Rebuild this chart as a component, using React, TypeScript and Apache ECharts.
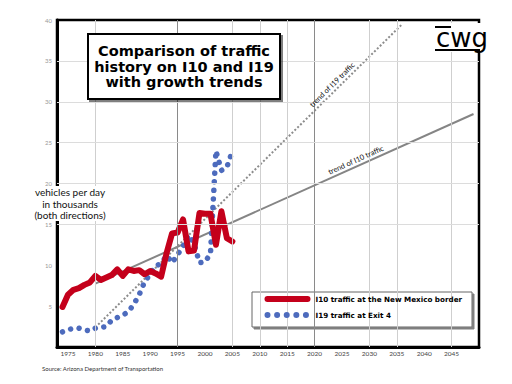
import React, { useEffect, useRef } from "react";
import * as echarts from "echarts";

// ---------- data ----------
const years = [
  1974, 1975, 1976, 1977, 1978, 1979, 1980, 1981, 1982, 1983, 1984, 1985, 1986, 1987, 1988, 1989,
  1990, 1991, 1992, 1993, 1994, 1995, 1996, 1997, 1998, 1999, 2000, 2001, 2002, 2003, 2004, 2005,
];
const i10Traffic = [
  4.9, 6.4, 7.0, 7.2, 7.6, 7.9, 8.7, 8.2, 8.5, 8.8, 9.5, 8.7, 9.5, 9.3, 9.4, 8.9,
  9.3, 9.0, 8.6, 11.5, 13.9, 14.0, 15.6, 11.7, 11.8, 16.4, 16.3, 16.3, 12.5, 16.6, 13.3, 12.9,
];
const i19Traffic = [
  1.85, 2.1, 2.3, 2.3, 2.1, 1.95, 2.3, 2.4, 2.5, 3.3, 3.6, 3.9, 4.3, 5.2, 6.4, 8.0,
  8.9, 9.9, 10.2, 11.2, 10.3, 11.3, 12.3, 13.7, 12.7, 10.3, 10.4, 11.4, 24.0, 21.6, 22.0, 24.0,
];
const i10Trend = [
  [1980, 7.75],
  [2049, 28.5],
];
const i19Trend = [
  [1980, 2.4],
  [2036, 39.5],
];
const seriesNames = ["I10 traffic at the New Mexico border", "I19 traffic at Exit 4"];
const trendNames = ["trend of I10 traffic", "trend of I19 traffic"];
const xTickLabels = [1975, 1980, 1985, 1990, 1995, 2000, 2005, 2010, 2015, 2020, 2025, 2030, 2035, 2040, 2045];
const verticalGridYears = [1980, 1995, 2005, 2010, 2015, 2020, 2030, 2035, 2045];
const darkGridYears = [1995, 2020];
const horizontalGridValues = [15, 20, 25, 30, 35];
const i10LabelSpan = [2021, 2035];
const i19LabelSpan = [2018, 2030];
const titleLines = ["Comparison of traffic", "history on I10 and I19", "with growth trends"];
const yAxisTitleLines = ["vehicles per day", "in thousands", "(both directions)"];
const sourceText = "Source: Arizona Department of Transportation";
const logoText = "cwg";

const FONT = "Lato, 'Open Sans', 'DejaVu Sans', sans-serif";
const HEAVY = "'DejaVu Sans', sans-serif";

function labelSegment(trend: number[][], span: number[]) {
  const [[xa, ya], [xb, yb]] = trend;
  const f = (x: number) => ya + ((yb - ya) * (x - xa)) / (xb - xa);
  return [{ coord: [span[0], f(span[0])] }, { coord: [span[1], f(span[1])] }];
}

export default function App() {
  const ref = useRef<HTMLDivElement>(null);

  useEffect(() => {
    if (!ref.current) return;
    const chart = echarts.init(ref.current, undefined, { renderer: "svg" });

    const trendLabel = {
      show: true,
      position: "insideMiddleTop",
      fontSize: 7.5,
      color: "#111",
      fontFamily: FONT,
      distance: 2,
    };

    const option: any = {
      animation: false,
      backgroundColor: "#fff",
      grid: {
        left: 57,
        right: 33,
        top: 20,
        bottom: 37,
        show: true,
        borderColor: "#000",
        borderWidth: 2.5,
        backgroundColor: "transparent",
      },
      legend: {
        z: 6,
        data: [
          { name: seriesNames[0] },
          { name: seriesNames[1], lineStyle: { type: [0.01, 9.6] } },
        ],
        orient: "vertical",
        left: 264.5,
        top: 295,
        itemWidth: 40,
        itemHeight: 10,
        itemGap: 8,
        padding: 0,
        backgroundColor: "transparent",
        borderWidth: 0,
        lineStyle: { width: 6 },
        itemStyle: { opacity: 0, borderWidth: 0 },
        textStyle: {
          fontSize: 7.2,
          fontWeight: "bold",
          color: "#000",
          fontFamily: HEAVY,
          padding: [0, 0, 0, 3],
        },
        selectedMode: false,
      },
      xAxis: {
        type: "value",
        min: 1973,
        max: 2050,
        axisLine: { show: true, lineStyle: { color: "#000", width: 3 } },
        axisTick: { show: false },
        splitLine: { show: false },
        axisLabel: {
          customValues: xTickLabels,
          formatter: (v: number) => String(v),
          fontSize: 6.5,
          color: "#444",
          margin: 3,
          fontFamily: FONT,
        },
      },
      yAxis: {
        type: "value",
        min: 0,
        max: 40,
        interval: 5,
        axisLine: { show: true, lineStyle: { color: "#000", width: 3 } },
        axisTick: { show: false },
        splitLine: { show: false },
        axisLabel: {
          formatter: (v: number) => (v === 0 ? "" : String(v)),
          fontSize: 6,
          color: "#999",
          margin: 5,
          fontFamily: FONT,
        },
      },
      series: [
        {
          name: "grid",
          type: "line",
          data: [],
          silent: true,
          z: 1,
          markLine: {
            silent: true,
            symbol: ["none", "none"],
            label: { show: false },
            data: [
              ...verticalGridYears.map((y) => ({
                xAxis: y,
                lineStyle: {
                  color: darkGridYears.includes(y) ? "#8a8a8a" : "#cfcfcf",
                  width: 1,
                  type: "solid",
                },
              })),
              ...horizontalGridValues.map((v) => ({
                yAxis: v,
                lineStyle: { color: "#dcdcdc", width: 1, type: "solid" },
              })),
            ],
          },
        },
        {
          name: trendNames[0],
          type: "line",
          data: i10Trend,
          symbol: "none",
          silent: true,
          z: 2,
          lineStyle: { color: "#858585", width: 2 },
          markLine: {
            silent: true,
            symbol: ["none", "none"],
            lineStyle: { color: "rgba(0,0,0,0)", width: 0 },
            label: { ...trendLabel, formatter: trendNames[0] },
            data: [labelSegment(i10Trend, i10LabelSpan)],
          },
        },
        {
          name: trendNames[1],
          type: "line",
          data: i19Trend,
          symbol: "none",
          silent: true,
          z: 2,
          lineStyle: { color: "#8c8c8c", width: 2, type: [2, 2] },
          markLine: {
            silent: true,
            symbol: ["none", "none"],
            lineStyle: { color: "rgba(0,0,0,0)", width: 0 },
            label: { ...trendLabel, formatter: trendNames[1] },
            data: [labelSegment(i19Trend, i19LabelSpan)],
          },
        },
        {
          name: seriesNames[1],
          type: "line",
          data: years.map((y, i) => [y, i19Traffic[i]]),
          symbol: "none",
          z: 3,
          color: "#4d6bbd",
          lineStyle: { color: "#4d6bbd", width: 5.5, type: [0.01, 8.6], cap: "round", join: "round" },
        },
        {
          name: seriesNames[0],
          type: "line",
          data: years.map((y, i) => [y, i10Traffic[i]]),
          symbol: "none",
          z: 4,
          color: "#c4001b",
          lineStyle: { color: "#c4001b", width: 6, cap: "round", join: "round" },
        },
      ],
      graphic: [
        {
          type: "rect",
          z: 5,
          shape: { x: 252, y: 292, width: 220, height: 35 },
          style: {
            fill: "#fff",
            stroke: "#666",
            lineWidth: 1,
            shadowColor: "rgba(0,0,0,0.5)",
            shadowBlur: 1,
            shadowOffsetX: 2,
            shadowOffsetY: 2,
          },
        },
        {
          type: "rect",
          z: 50,
          shape: { x: 88, y: 34, width: 192, height: 65 },
          style: {
            fill: "#fff",
            stroke: "#000",
            lineWidth: 2,
            shadowColor: "rgba(0,0,0,0.5)",
            shadowBlur: 1,
            shadowOffsetX: 2,
            shadowOffsetY: 2,
          },
        },
        {
          type: "text",
          z: 51,
          x: 184,
          y: 66.5,
          style: {
            text: titleLines.join("\n"),
            align: "center",
            verticalAlign: "middle",
            fontSize: 14.5,
            lineHeight: 15.5,
            fontWeight: "bold",
            fontFamily: HEAVY,
            fill: "#000",
          },
        },
        {
          type: "rect",
          z: 50,
          shape: { x: 432, y: 23, width: 60, height: 29 },
          style: { fill: "#fff" },
        },
        {
          type: "text",
          z: 51,
          x: 436,
          y: 38,
          style: {
            text: logoText,
            align: "left",
            verticalAlign: "middle",
            fontSize: 26,
            fontFamily: "'DejaVu Sans', sans-serif",
            fill: "#000",
          },
        },
        {
          type: "rect",
          z: 51,
          shape: { x: 435, y: 26, width: 16, height: 2 },
          style: { fill: "#000" },
        },
        {
          type: "rect",
          z: 51,
          shape: { x: 435, y: 49, width: 45, height: 2 },
          style: { fill: "#000" },
        },
        {
          type: "rect",
          z: 50,
          shape: { x: 33, y: 186, width: 76, height: 35 },
          style: { fill: "#fff" },
        },
        {
          type: "text",
          z: 51,
          x: 70,
          y: 203.5,
          style: {
            text: yAxisTitleLines.join("\n"),
            align: "center",
            verticalAlign: "middle",
            fontSize: 10,
            lineHeight: 11.5,
            fontFamily: FONT,
            fill: "#111",
          },
        },
        {
          type: "text",
          z: 51,
          x: 42,
          y: 368,
          style: {
            text: sourceText,
            align: "left",
            verticalAlign: "middle",
            fontSize: 6,
            fontFamily: FONT,
            fill: "#333",
          },
        },
      ],
    };

    chart.setOption(option);
    return () => chart.dispose();
  }, []);

  return (
    <div
      ref={ref}
      style={{ position: "absolute", left: 0, top: 0, width: 512, height: 384, background: "#fff" }}
    />
  );
}
